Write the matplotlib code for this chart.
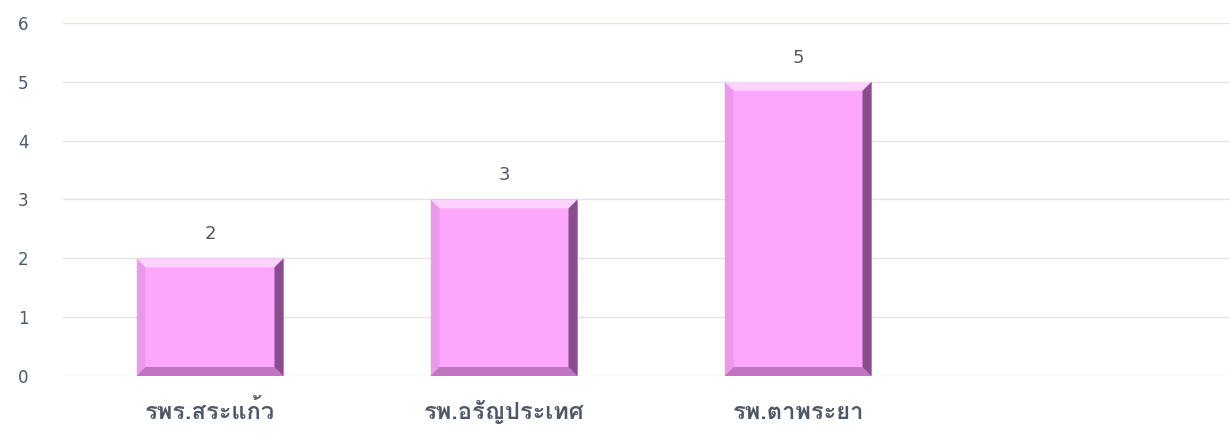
"""
plot.py
จำนวนตามโรงพยาบาล - bar chart with bevelled bars
"""

import matplotlib
matplotlib.use('Agg')

import matplotlib.pyplot as plt
import matplotlib.font_manager as fm
from matplotlib.ft2font import FT2Font
from matplotlib.patches import Polygon
import numpy as np

hospitals = ['รพร.สระแก้ว', 'รพ.อรัญประเทศ', 'รพ.ตาพระยา']
counts = [2, 3, 5]
y_ticks = [0, 1, 2, 3, 4, 5, 6]

TEXT_COLOR = '#4f5866'
BAR_COLOR = '#fca6fc'


def find_thai_font():
    """Look for an installed font that actually has Thai glyphs."""
    for path in sorted(fm.findSystemFonts()):
        try:
            ft = FT2Font(path)
            if all(ft.get_char_index(ord(c)) for c in 'รพสระแก้ว'):
                return fm.FontProperties(fname=path).get_name()
        except Exception:
            continue
    return None


thai = find_thai_font()
families = ([thai] if thai else []) + ['DejaVu Sans']
plt.rcParams['font.family'] = families


def add_bevel(ax, bar, px=9):
    """Fake the Excel 'bevel' look with four shaded trapezoids."""
    x0, y0 = ax.transData.transform((bar.get_x(), bar.get_y()))
    x1, y1 = ax.transData.transform((bar.get_x() + bar.get_width(), bar.get_y() + bar.get_height()))
    inv = ax.transData.inverted()

    def poly(pts, color, alpha):
        ax.add_patch(Polygon(inv.transform(pts), closed=True, facecolor=color,
                             edgecolor='none', alpha=alpha, zorder=3))

    # top (light)
    poly([(x0, y1), (x1, y1), (x1 - px, y1 - px), (x0 + px, y1 - px)], 'white', 0.5)
    # bottom (dark)
    poly([(x0, y0), (x1, y0), (x1 - px, y0 + px), (x0 + px, y0 + px)], '#7a3a7a', 0.45)
    # right (darkest)
    poly([(x1, y0), (x1, y1), (x1 - px, y1 - px), (x1 - px, y0 + px)], '#4a2050', 0.65)
    # left (slightly dark)
    poly([(x0, y0), (x0, y1), (x0 + px, y1 - px), (x0 + px, y0 + px)], '#b060b0', 0.2)


fig = plt.figure(figsize=(12.3, 4.33), dpi=100)
ax = fig.add_axes([63 / 1230, 57 / 433, 1167 / 1230, 353 / 433])

x = np.arange(len(hospitals))
bars = ax.bar(x, counts, width=0.5, color=BAR_COLOR, zorder=2)

ax.set_xlim(-0.5, -0.5 + 1167 / 294)
ax.set_ylim(0, 6)
ax.set_yticks(y_ticks)
ax.grid(True, axis='y', color='#e1e4ea', linewidth=1, zorder=0)
ax.set_axisbelow(True)
for s in ax.spines.values():
    s.set_visible(False)

ax.tick_params(axis='y', length=0, pad=25, labelcolor=TEXT_COLOR)
ax.tick_params(axis='x', length=0, pad=31, labelcolor=TEXT_COLOR)
for lbl in ax.get_yticklabels():
    lbl.set_fontfamily(['DejaVu Sans'])
    lbl.set_fontsize(12)

ax.set_xticks(x)
ax.set_xticklabels(hospitals, fontsize=17, fontweight='bold', va='baseline')

fig.canvas.draw()
for bar, val in zip(bars, counts):
    add_bevel(ax, bar)
    ax.annotate(str(val), (bar.get_x() + bar.get_width() / 2, val),
                xytext=(0, 11), textcoords='offset points', ha='center', va='bottom',
                fontsize=13, color=TEXT_COLOR, family=['DejaVu Sans'])

plt.savefig('out.png', dpi=100)
plt.close()
